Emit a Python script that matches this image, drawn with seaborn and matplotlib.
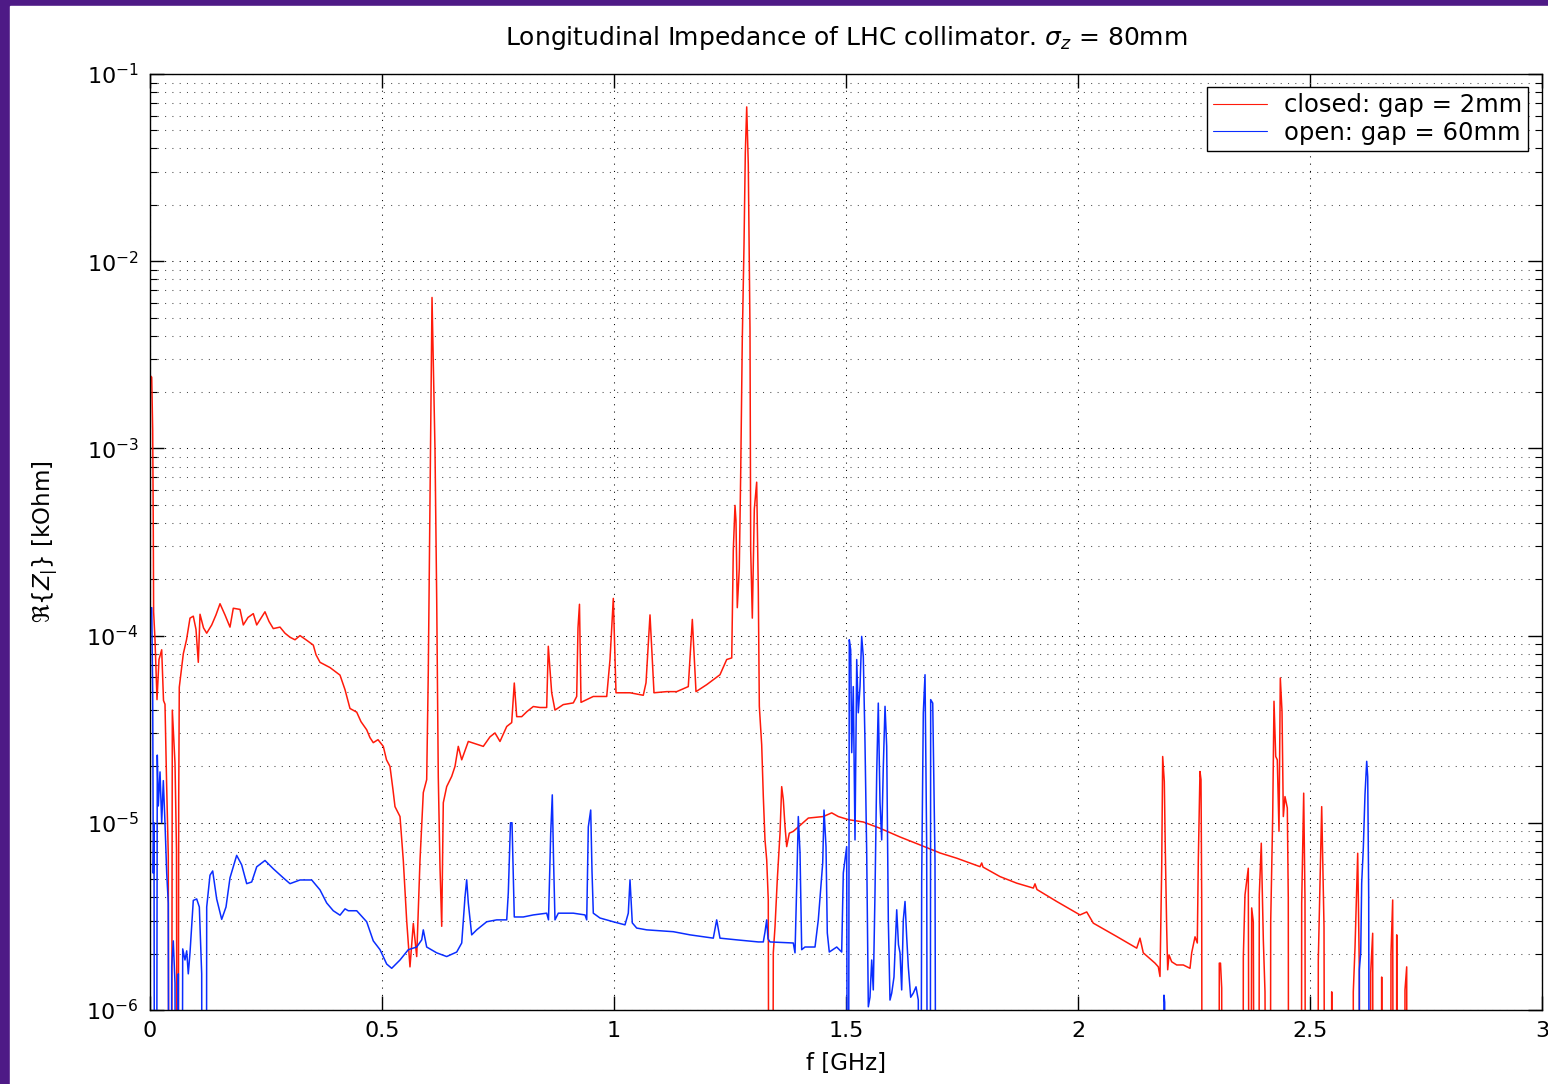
import pandas as pd
import seaborn as sns
import matplotlib.pyplot as plt
from matplotlib.patches import Rectangle
from matplotlib.ticker import LogLocator, NullFormatter

# Re{Z_par} [kOhm] vs f [GHz].
# Values below the visible range (1e-6) are given as 1e-9.
CLOSED = [
    (0.0000, 2.45e-3), (0.0037, 2.40e-3), (0.0058, 1.25e-3), (0.0071, 3.60e-4),
    (0.0078, 1.34e-4), (0.0108, 9.5e-5), (0.0151, 4.55e-5), (0.0194, 7.45e-5),
    (0.0252, 8.4e-5), (0.0291, 4.5e-5), (0.0323, 4.3e-5), (0.0356, 1.7e-5),
    (0.0394, 6.7e-6), (0.0420, 1e-9), (0.0453, 1e-9), (0.0481, 4.0e-5),
    (0.0539, 2.07e-5), (0.0571, 7.2e-6), (0.0597, 1e-9), (0.0619, 1.33e-5),
    (0.0631, 5.3e-5), (0.0718, 8.0e-5), (0.0787, 9.5e-5), (0.0862, 1.24e-4),
    (0.0933, 1.27e-4), (0.0991, 1.08e-4), (0.1041, 7.2e-5), (0.1078, 1.30e-4),
    (0.1153, 1.10e-4), (0.1222, 1.03e-4), (0.1330, 1.14e-4), (0.1422, 1.29e-4),
    (0.1509, 1.48e-4), (0.1616, 1.29e-4), (0.1724, 1.11e-4), (0.1795, 1.40e-4),
    (0.1940, 1.38e-4), (0.2011, 1.14e-4), (0.2112, 1.25e-4), (0.2226, 1.31e-4),
    (0.2300, 1.14e-4), (0.2392, 1.24e-4), (0.2478, 1.34e-4), (0.2565, 1.19e-4),
    (0.2657, 1.09e-4), (0.2802, 1.11e-4), (0.2909, 1.03e-4), (0.3017, 9.8e-5),
    (0.3125, 9.5e-5), (0.3233, 1.0e-4), (0.3362, 9.5e-5), (0.3519, 8.9e-5),
    (0.3578, 7.9e-5), (0.3664, 7.2e-5), (0.3879, 6.75e-5), (0.4095, 6.15e-5),
    (0.4203, 5.14e-5), (0.4310, 4.08e-5), (0.4455, 3.9e-5), (0.4547, 3.47e-5),
    (0.4670, 3.14e-5), (0.4741, 2.85e-5), (0.4812, 2.68e-5), (0.4914, 2.78e-5),
    (0.5028, 2.56e-5), (0.5097, 2.17e-5), (0.5172, 2.0e-5), (0.5237, 1.5e-5),
    (0.5280, 1.22e-5), (0.5388, 1.08e-5), (0.5459, 6.3e-6), (0.5532, 3.0e-6),
    (0.5603, 1.7e-6), (0.5675, 2.9e-6), (0.5748, 1.93e-6), (0.5819, 6.3e-6),
    (0.5890, 1.45e-5), (0.5963, 1.7e-5), (0.5998, 6.5e-5), (0.6034, 5.4e-4),
    (0.6078, 6.4e-3), (0.6142, 9.9e-4), (0.6179, 1.56e-4), (0.6213, 1.76e-5),
    (0.6250, 5.8e-6), (0.6287, 2.8e-6), (0.6321, 1.28e-5), (0.6394, 1.56e-5),
    (0.6502, 1.77e-5), (0.6573, 2.0e-5), (0.6644, 2.56e-5), (0.6718, 2.17e-5),
    (0.6860, 2.72e-5), (0.7041, 2.63e-5), (0.7183, 2.56e-5), (0.7328, 2.88e-5),
    (0.7435, 3.02e-5), (0.7543, 2.72e-5), (0.7688, 3.27e-5), (0.7795, 3.43e-5),
    (0.7851, 5.58e-5), (0.7903, 3.69e-5), (0.8011, 3.69e-5), (0.8125, 3.93e-5),
    (0.8261, 4.18e-5), (0.8405, 4.13e-5), (0.8549, 4.13e-5), (0.8584, 8.77e-5),
    (0.8657, 4.95e-5), (0.8728, 4.0e-5), (0.8907, 4.28e-5), (0.9123, 4.37e-5),
    (0.9196, 4.73e-5), (0.9224, 1.1e-4), (0.9256, 1.47e-4), (0.9289, 4.4e-5),
    (0.9554, 4.73e-5), (0.9843, 4.73e-5), (0.9914, 7.45e-5), (0.9985, 1.58e-4),
    (1.0043, 4.95e-5), (1.0345, 4.95e-5), (1.0631, 4.8e-5), (1.0690, 5.6e-5),
    (1.0776, 1.29e-4), (1.0862, 4.95e-5), (1.1136, 5.02e-5), (1.1351, 5.02e-5),
    (1.1601, 5.34e-5), (1.1688, 1.22e-4), (1.1767, 5.02e-5), (1.1998, 5.47e-5),
    (1.2284, 6.18e-5), (1.2429, 7.45e-5), (1.2537, 7.6e-5), (1.2571, 2.86e-4),
    (1.2608, 4.96e-4), (1.2629, 4.1e-4), (1.2657, 1.41e-4), (1.2700, 2.28e-4),
    (1.2731, 7.5e-4), (1.2765, 3.83e-3), (1.2802, 1.23e-2), (1.2830, 3.77e-2),
    (1.2860, 6.67e-2), (1.2894, 3.3e-2), (1.2931, 4.28e-3), (1.2946, 2.86e-4),
    (1.2981, 1.24e-4), (1.3024, 4.74e-4), (1.3075, 6.6e-4), (1.3110, 1.76e-4),
    (1.3132, 4.19e-5), (1.3183, 2.61e-5), (1.3218, 1.38e-5), (1.3254, 8.1e-6),
    (1.3291, 6.34e-6), (1.3325, 3.87e-6), (1.3351, 1e-9), (1.3405, 1e-9),
    (1.3433, 2.02e-6), (1.3470, 2.78e-6), (1.3519, 4.96e-6), (1.3578, 8.8e-6),
    (1.3614, 1.56e-5), (1.3649, 1.33e-5), (1.3685, 9.6e-6), (1.3722, 7.46e-6),
    (1.3778, 8.8e-6), (1.3864, 9.0e-6), (1.4188, 1.06e-5), (1.4511, 1.08e-5),
    (1.4692, 1.13e-5), (1.4834, 1.08e-5), (1.5050, 1.04e-5), (1.5373, 1.01e-5),
    (1.5733, 9.35e-6), (1.6164, 8.4e-6), (1.6595, 7.62e-6), (1.7026, 6.9e-6),
    (1.7386, 6.47e-6), (1.7888, 5.83e-6), (1.7925, 6.1e-6), (1.7953, 5.8e-6),
    (1.8319, 5.16e-6), (1.8679, 4.76e-6), (1.9037, 4.48e-6), (1.9073, 4.72e-6),
    (1.9116, 4.4e-6), (1.9541, 3.8e-6), (2.0043, 3.22e-6), (2.0188, 3.34e-6),
    (2.0330, 2.91e-6), (2.0834, 2.47e-6), (2.1265, 2.14e-6), (2.1336, 2.42e-6),
    (2.1407, 2.02e-6), (2.1659, 1.78e-6), (2.1731, 1.7e-6), (2.1767, 1.51e-6),
    (2.1804, 5.8e-6), (2.1825, 2.26e-5), (2.1860, 1.66e-5), (2.1881, 7.3e-6),
    (2.1912, 2.68e-6), (2.1933, 1.64e-6), (2.1961, 1.97e-6), (2.2019, 1.81e-6),
    (2.2127, 1.74e-6), (2.2269, 1.74e-6), (2.2414, 1.67e-6), (2.2450, 2.02e-6),
    (2.2522, 2.46e-6), (2.2571, 2.28e-6), (2.2593, 6.34e-6), (2.2629, 1.88e-5),
    (2.2651, 1.7e-5), (2.2666, 3.87e-6), (2.2683, 1e-9), (2.3028, 1e-9),
    (2.3045, 1.78e-6), (2.3071, 1.78e-6), (2.3097, 1.31e-6), (2.3114, 1e-9),
    (2.3545, 1e-9), (2.3563, 1.92e-6), (2.3599, 4.12e-6), (2.3670, 5.72e-6),
    (2.3707, 1e-9), (2.3743, 3.51e-6), (2.3778, 2.96e-6), (2.3825, 1e-9),
    (2.3890, 1e-9), (2.3907, 4.12e-6), (2.3950, 7.78e-6), (2.3994, 2.37e-6),
    (2.4030, 1.25e-6), (2.4095, 1e-9), (2.4138, 1e-9), (2.4153, 2.96e-6),
    (2.4196, 1.08e-5), (2.4224, 4.46e-5), (2.4261, 2.26e-5), (2.4295, 2.17e-5),
    (2.4332, 9.0e-6), (2.4360, 5.94e-5), (2.4397, 3.93e-5), (2.4425, 1.08e-5),
    (2.4461, 1.38e-5), (2.4511, 1.2e-5), (2.4532, 3.9e-6), (2.4547, 1e-9),
    (2.4806, 1e-9), (2.4821, 3.73e-6), (2.4864, 1.44e-5), (2.4892, 3.9e-6),
    (2.4914, 1e-9), (2.5162, 1e-9), (2.5179, 1.85e-6), (2.5252, 1.22e-5),
    (2.5302, 2.78e-6), (2.5334, 1e-9), (2.5453, 1e-9), (2.5468, 1.25e-6),
    (2.5485, 1e-9), (2.5927, 1e-9), (2.5933, 1.25e-6), (2.5970, 2.15e-6),
    (2.6006, 4.38e-6), (2.6028, 6.88e-6), (2.6063, 1.64e-6), (2.6088, 1e-9),
    (2.6293, 1e-9), (2.6308, 1.58e-6), (2.6351, 2.57e-6), (2.6369, 1e-9),
    (2.6530, 1e-9), (2.6545, 1.5e-6), (2.6562, 1e-9), (2.6724, 1e-9),
    (2.6746, 2.02e-6), (2.6782, 3.87e-6), (2.6810, 1e-9), (2.6853, 1e-9),
    (2.6869, 2.52e-6), (2.6886, 1e-9), (2.7037, 1e-9), (2.7047, 1.28e-6),
    (2.7084, 1.7e-6), (2.7101, 1e-9), (3.0000, 1e-9),
]

OPEN = [
    (0.0000, 1.40e-4), (0.0037, 1.41e-4), (0.0058, 4.98e-5), (0.0071, 5.38e-6),
    (0.0086, 1.0e-5), (0.0108, 1e-9), (0.0129, 1e-9), (0.0157, 2.3e-5),
    (0.0179, 1.23e-5), (0.0216, 1.87e-5), (0.0252, 1.0e-5), (0.0287, 1.68e-5),
    (0.0323, 1.0e-5), (0.0360, 5.38e-6), (0.0394, 3.73e-6), (0.0420, 1e-9),
    (0.0442, 1e-9), (0.0468, 1.72e-6), (0.0502, 2.34e-6), (0.0539, 1.39e-6),
    (0.0567, 1e-9), (0.0588, 1e-9), (0.0610, 1.56e-6), (0.0634, 1e-9),
    (0.0668, 1e-9), (0.0705, 2.12e-6), (0.0754, 1.85e-6), (0.0791, 2.07e-6),
    (0.0825, 1.56e-6), (0.0862, 2.02e-6), (0.0933, 3.85e-6), (0.1006, 3.92e-6),
    (0.1063, 3.55e-6), (0.1114, 1.56e-6), (0.1135, 1e-9), (0.1207, 1e-9),
    (0.1222, 3.55e-6), (0.1293, 5.25e-6), (0.1351, 5.53e-6), (0.1437, 3.92e-6),
    (0.1545, 3.05e-6), (0.1638, 3.55e-6), (0.1724, 5.08e-6), (0.1868, 6.7e-6),
    (0.1976, 5.96e-6), (0.2084, 4.73e-6), (0.2192, 4.83e-6), (0.2300, 5.82e-6),
    (0.2478, 6.29e-6), (0.2657, 5.68e-6), (0.2873, 5.08e-6), (0.3017, 4.73e-6),
    (0.3233, 4.95e-6), (0.3485, 4.95e-6), (0.3664, 4.38e-6), (0.3808, 3.73e-6),
    (0.3950, 3.39e-6), (0.4095, 3.21e-6), (0.4203, 3.47e-6), (0.4274, 3.39e-6),
    (0.4455, 3.39e-6), (0.4670, 2.96e-6), (0.4812, 2.34e-6), (0.4957, 2.1e-6),
    (0.5101, 1.76e-6), (0.5209, 1.67e-6), (0.5388, 1.85e-6), (0.5567, 2.1e-6),
    (0.5748, 2.17e-6), (0.5856, 2.37e-6), (0.5890, 2.68e-6), (0.5963, 2.17e-6),
    (0.6179, 2.02e-6), (0.6394, 1.93e-6), (0.6610, 2.04e-6), (0.6718, 2.28e-6),
    (0.6789, 4.02e-6), (0.6825, 4.96e-6), (0.6860, 3.73e-6), (0.6933, 2.52e-6),
    (0.7041, 2.68e-6), (0.7256, 2.96e-6), (0.7472, 3.03e-6), (0.7688, 3.03e-6),
    (0.7722, 4.23e-6), (0.7769, 1.0e-5), (0.7802, 1.0e-5), (0.7851, 3.14e-6),
    (0.8045, 3.14e-6), (0.8261, 3.22e-6), (0.8549, 3.29e-6), (0.8588, 3.03e-6),
    (0.8636, 8.8e-6), (0.8670, 1.41e-5), (0.8696, 6.5e-6), (0.8728, 3.03e-6),
    (0.8800, 3.29e-6), (0.9123, 3.29e-6), (0.9375, 3.22e-6), (0.9412, 3.03e-6),
    (0.9446, 9.5e-6), (0.9498, 1.17e-5), (0.9526, 5.5e-6), (0.9554, 3.29e-6),
    (0.9698, 3.1e-6), (0.9985, 2.96e-6), (1.0237, 2.85e-6), (1.0308, 3.29e-6),
    (1.0345, 4.96e-6), (1.0394, 2.92e-6), (1.0489, 2.74e-6), (1.0705, 2.68e-6),
    (1.1278, 2.62e-6), (1.1638, 2.52e-6), (1.2140, 2.42e-6), (1.2213, 3.03e-6),
    (1.2284, 2.42e-6), (1.2644, 2.37e-6), (1.3110, 2.31e-6), (1.3218, 2.31e-6),
    (1.3254, 2.61e-6), (1.3291, 3.03e-6), (1.3319, 2.4e-6), (1.3362, 2.31e-6),
    (1.3864, 2.28e-6), (1.3901, 2.02e-6), (1.3937, 4.55e-6), (1.3972, 1.08e-5),
    (1.4009, 6.92e-6), (1.4045, 2.1e-6), (1.4116, 2.17e-6), (1.4332, 2.17e-6),
    (1.4403, 3.03e-6), (1.4498, 6.1e-6), (1.4526, 1.17e-5), (1.4569, 7.46e-6),
    (1.4597, 2.58e-6), (1.4640, 2.04e-6), (1.4800, 2.17e-6), (1.4907, 2.04e-6),
    (1.4942, 5.4e-6), (1.5015, 7.46e-6), (1.5043, 1e-9), (1.5071, 9.5e-5),
    (1.5101, 8.4e-5), (1.5123, 2.37e-5), (1.5157, 5.34e-5), (1.5194, 8.1e-6),
    (1.5231, 7.45e-5), (1.5265, 3.87e-5), (1.5302, 5.34e-5), (1.5338, 9.9e-5),
    (1.5373, 7.7e-5), (1.5409, 2.7e-5), (1.5446, 6.92e-6), (1.5481, 1.04e-6),
    (1.5517, 1.17e-6), (1.5554, 1.85e-6), (1.5588, 1.28e-6), (1.5625, 4.23e-6),
    (1.5662, 1.85e-5), (1.5696, 4.36e-5), (1.5733, 1.28e-5), (1.5769, 8.1e-6),
    (1.5804, 1.99e-5), (1.5841, 4.19e-5), (1.5877, 2.56e-5), (1.5912, 3.03e-6),
    (1.5948, 1.13e-6), (1.5985, 1.23e-6), (1.6034, 1.5e-6), (1.6093, 3.43e-6),
    (1.6131, 2.23e-6), (1.6164, 2.02e-6), (1.6200, 1.28e-6), (1.6235, 3.03e-6),
    (1.6272, 3.8e-6), (1.6308, 2.45e-6), (1.6343, 1.7e-6), (1.6394, 1.17e-6),
    (1.6450, 1.23e-6), (1.6509, 1.33e-6), (1.6558, 1.13e-6), (1.6595, 1e-9),
    (1.6631, 4.96e-6), (1.6666, 3.86e-5), (1.6703, 6.18e-5), (1.6739, 7.46e-6),
    (1.6767, 1e-9), (1.6810, 1e-9), (1.6825, 4.55e-5), (1.6869, 4.36e-5),
    (1.6918, 6.34e-6), (1.6955, 1e-9), (2.1843, 1e-9), (2.1853, 1.2e-6),
    (2.1868, 1.1e-6), (2.1886, 1e-9), (2.6056, 1e-9), (2.6063, 1.64e-6),
    (2.6093, 2.02e-6), (2.6114, 4.76e-6), (2.6149, 7.34e-6), (2.6185, 1.41e-5),
    (2.6222, 2.13e-5), (2.6244, 1.76e-5), (2.6265, 4.02e-6), (2.6293, 1e-9),
    (3.0000, 1e-9),
]

SERIES_LABELS = ["closed: gap = 2mm", "open: gap = 60mm"]
SERIES_COLORS = ["#ff1a0a", "#0a2dff"]
X_TICKS = [0, 0.5, 1, 1.5, 2, 2.5, 3]
X_TICK_LABELS = ["0", "0.5", "1", "1.5", "2", "2.5", "3"]

sns.set_theme(style="ticks")
plt.rcParams.update({
    "font.family": ["DejaVu Sans"],
    "mathtext.fontset": "dejavusans",
    "text.color": "black",
    "axes.labelcolor": "black",
    "xtick.color": "black",
    "ytick.color": "black",
    "axes.linewidth": 1.0,
    "axes.edgecolor": "black",
    "xtick.direction": "in",
    "ytick.direction": "in",
    "xtick.top": True,
    "ytick.right": True,
    "xtick.major.size": 10,
    "ytick.major.size": 10,
    "ytick.minor.size": 5,
    "xtick.major.width": 1.0,
    "ytick.major.width": 1.0,
    "ytick.minor.width": 0.8,
})

df = pd.concat([
    pd.DataFrame(CLOSED, columns=["f", "Z"]).assign(case=SERIES_LABELS[0]),
    pd.DataFrame(OPEN, columns=["f", "Z"]).assign(case=SERIES_LABELS[1]),
])

fig = plt.figure(figsize=(15.48, 10.84), dpi=100)
fig.patch.set_facecolor("#4e1a86")
fig.add_artist(Rectangle((10 / 1548, 0), 1, 1 - 6 / 1084,
                         transform=fig.transFigure, color="white", zorder=-5))
ax = fig.add_axes([150 / 1548, 1 - 1010 / 1084, 1392 / 1548, 936 / 1084])

sns.lineplot(data=df, x="f", y="Z", hue="case", hue_order=SERIES_LABELS,
             palette=SERIES_COLORS, estimator=None, sort=False, lw=1.1,
             legend=False, ax=ax)

ax.set_yscale("log")
ax.set_xlim(0, 3)
ax.set_ylim(1e-6, 1e-1)
ax.set_xticks(X_TICKS)
ax.set_xticklabels(X_TICK_LABELS)
ax.yaxis.set_major_locator(LogLocator(base=10, numticks=10))
ax.yaxis.set_minor_locator(LogLocator(base=10, subs=range(2, 10), numticks=100))
ax.yaxis.set_minor_formatter(NullFormatter())
ax.tick_params(labelsize=16, pad=8)

dots = (0, (1, 6))
ax.grid(True, which="major", axis="both", color="black", lw=0.75, ls=dots)
ax.grid(True, which="minor", axis="y", color="0.3", lw=0.75, ls=dots)

ax.set_title(r"Longitudinal Impedance of LHC collimator. $\sigma_z$ = 80mm",
             fontsize=18, pad=21)
ax.set_xlabel("f [GHz]", fontsize=16.5, labelpad=8)
ax.set_ylabel(r"$\Re\{Z_|\}$ [kOhm]", fontsize=16.5, labelpad=18)

handles = ax.get_lines()[:2]
leg = ax.legend(handles, SERIES_LABELS, loc="upper right",
                bbox_to_anchor=(0.99, 0.986), borderaxespad=0, fontsize=17.5,
                fancybox=False, framealpha=1, edgecolor="black",
                handlelength=2.2, handletextpad=0.7, borderpad=0.25,
                labelspacing=0.15)
leg.get_frame().set_linewidth(1.0)
for line in leg.get_lines():
    line.set_linewidth(0.8)

fig.savefig("out.png", dpi=100, facecolor=fig.get_facecolor())
